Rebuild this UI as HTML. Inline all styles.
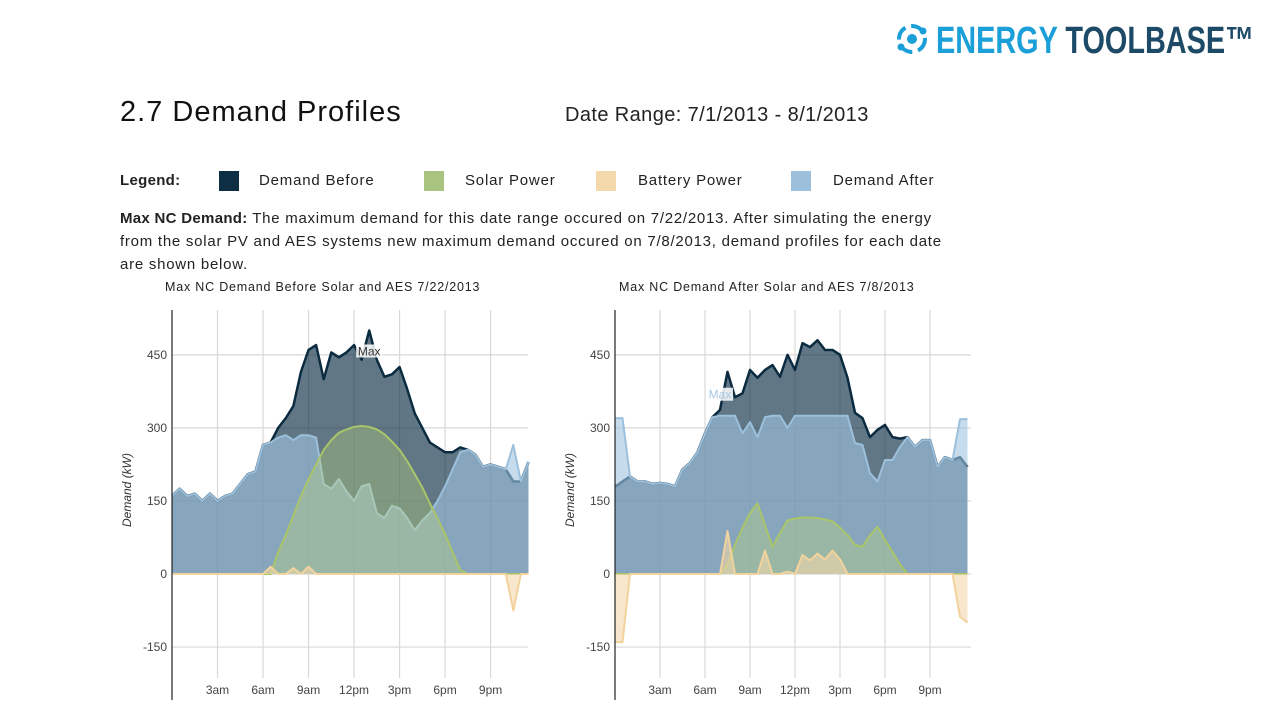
<!DOCTYPE html>
<html><head><meta charset="utf-8">
<style>
body{margin:0;width:1280px;height:720px;background:#fff;overflow:hidden;font-family:"Liberation Sans",sans-serif;color:#222;position:relative}
.abs{position:absolute;white-space:nowrap}
.sw{position:absolute;width:20px;height:20px;top:171px}
.lg{letter-spacing:0.8px}
</style></head><body>
<svg class="abs" style="left:890px;top:14px" width="385" height="50">
<circle cx="22" cy="25" r="13" fill="none" stroke="#1a9fd9" stroke-width="4" stroke-dasharray="14 6"/>
<circle cx="22" cy="25" r="5" fill="#1a9fd9"/>
<circle cx="11" cy="33" r="3.5" fill="#1a9fd9"/><circle cx="33" cy="17" r="3.5" fill="#1a9fd9"/>
<text x="46" y="39" font-family="Liberation Sans Narrow, Liberation Sans, sans-serif" font-weight="bold" font-size="38" textLength="318" lengthAdjust="spacingAndGlyphs"><tspan fill="#1a9fd9">ENERGY </tspan><tspan fill="#1d4a66">TOOLBASE™</tspan></text>
</svg>
<div class="abs" style="left:120px;top:96px;font-size:29px;color:#111;letter-spacing:1px">2.7 Demand Profiles</div>
<div class="abs" style="left:565px;top:104px;font-size:20px;color:#222;letter-spacing:0.4px">Date Range: 7/1/2013 - 8/1/2013</div>
<div class="abs lg" style="left:120px;top:172px;font-size:15px;font-weight:bold;letter-spacing:0.3px">Legend:</div>
<div class="sw" style="left:219px;background:#0e2e44"></div>
<div class="abs lg" style="left:259px;top:172px;font-size:15px">Demand Before</div>
<div class="sw" style="left:424px;background:#a8c47e"></div>
<div class="abs lg" style="left:465px;top:172px;font-size:15px">Solar Power</div>
<div class="sw" style="left:596px;background:#f2d8ab"></div>
<div class="abs lg" style="left:638px;top:172px;font-size:15px">Battery Power</div>
<div class="sw" style="left:791px;background:#9cc0dc"></div>
<div class="abs lg" style="left:833px;top:172px;font-size:15px">Demand After</div>
<div class="abs" style="left:120px;top:207px;font-size:15px;line-height:23px;letter-spacing:0.75px"><b style="letter-spacing:0.3px">Max NC Demand:</b> The maximum demand for this date range occured on 7/22/2013. After simulating the energy<br>from the solar PV and AES systems new maximum demand occured on 7/8/2013, demand profiles for each date<br>are shown below.</div>
<div class="abs" style="left:165px;top:280px;font-size:12.5px;letter-spacing:0.8px">Max NC Demand Before Solar and AES 7/22/2013</div>
<div class="abs" style="left:619px;top:280px;font-size:12.5px;letter-spacing:0.8px">Max NC Demand After Solar and AES 7/8/2013</div>
<svg id="c1" class="abs" style="left:0;top:0" width="640" height="720"></svg>
<svg id="c2" class="abs" style="left:0;top:0" width="1280" height="720"></svg>
<script>
const hours=[];for(let i=0;i<48;i++)hours.push(i*0.5);
const yTicks=[-150,0,150,300,450];
const xTickLabels=['3am','6am','9am','12pm','3pm','6pm','9pm'];
const xTickHours=[3,6,9,12,15,18,21];
const leftAfter=[160,175,160,165,150,165,150,160,165,185,205,210,265,270,280,285,275,285,285,280,185,175,195,170,150,180,185,125,115,140,135,115,90,110,125,150,180,215,250,255,245,220,225,220,215,265,190,230];
const leftBefore=[160,175,160,165,150,165,150,160,165,185,205,210,265,270,300,320,345,415,460,470,400,455,445,455,470,440,500,440,405,410,425,380,330,300,270,260,250,250,260,255,245,220,225,220,215,190,190,230];
const leftSolar=[0,0,0,0,0,0,0,0,0,0,0,0,0,0,45,80,120,160,195,225,255,275,290,297,302,304,302,297,287,272,255,232,205,178,145,115,82,45,8,0,0,0,0,0,0,0,0,0];
const leftBattery=[0,0,0,0,0,0,0,0,0,0,0,0,0,15,0,0,12,0,15,0,0,0,0,0,0,0,0,0,0,0,0,0,0,0,0,0,0,0,0,0,0,0,0,0,0,-75,0,0];
const rightAfter=[320,320,200,190,190,185,187,185,180,215,228,250,289,322,325,325,325,289,312,281,322,325,325,300,325,325,325,325,325,325,325,325,269,265,207,190,234,234,261,281,261,275,275,220,240,234,318,318];
const rightBefore=[179,190,200,190,190,185,187,185,180,215,228,250,289,322,337,415,363,371,419,403,419,429,405,450,419,474,466,480,460,460,450,403,331,320,281,296,306,281,278,281,261,275,275,220,240,234,240,220];
const rightSolar=[0,0,0,0,0,0,0,0,0,0,0,0,0,0,0,20,60,95,125,145,100,56,84,110,114,116,116,115,112,108,95,80,60,56,80,97,70,45,20,0,0,0,0,0,0,0,0,0];
const rightBattery=[-140,-140,0,0,0,0,0,0,0,0,0,0,0,0,0,88,0,0,0,0,48,0,0,5,0,39,28,42,30,48,30,0,0,0,0,0,0,0,0,0,0,0,0,0,0,0,-88,-100];
const NS='http://www.w3.org/2000/svg';
function mk(p,t,a){const e=document.createElementNS(NS,t);for(const k in a)e.setAttribute(k,a[k]);p.appendChild(e);return e;}
function chart(svg,x0,pxh,before,after,solar,battery,maxIdx,maxColor,pre,maxDy){
  const y=v=>574-v*0.487, x=h=>x0+h*pxh;
  yTicks.forEach(t=>{const g=mk(svg,'line',{x1:x0,x2:x0+356,y1:y(t),y2:y(t),stroke:'#d8d8d8','stroke-width':1.2});
    
    const l=mk(svg,'text',{x:x0-5,y:y(t)+4,'text-anchor':'end','font-size':12,fill:'#444','font-family':'Liberation Sans, sans-serif'});l.textContent=t;
    });
  xTickHours.forEach((h,i)=>{const g=mk(svg,'line',{x1:x(h),x2:x(h),y1:310,y2:678,stroke:'#d8d8d8','stroke-width':1.2});
    
    const l=mk(svg,'text',{x:x(h),y:694,'text-anchor':'middle','font-size':12,fill:'#444','font-family':'Liberation Sans, sans-serif'});l.textContent=xTickLabels[i];
    });
  const yl=mk(svg,'text',{transform:`translate(${x0-41},490) rotate(-90)`,'text-anchor':'middle','font-size':12,'font-style':'italic',fill:'#333','font-family':'Liberation Sans, sans-serif'});yl.textContent='Demand (kW)';
  
  function area(arr,fill,stroke,sw,name){
    let d='M'+x(hours[0])+','+y(0);arr.forEach((v,i)=>d+='L'+x(hours[i])+','+y(v));d+='L'+x(hours[arr.length-1])+','+y(0)+'Z';
    const a=mk(svg,'path',{d:d,fill:fill,stroke:'none'});
    let l='';arr.forEach((v,i)=>l+=(i?'L':'M')+x(hours[i])+','+y(v));
    const p=mk(svg,'path',{d:l,fill:'none',stroke:stroke,'stroke-width':sw,'stroke-linejoin':'round'});
  }
  area(before,'rgba(14,46,68,0.65)','#0b2b40',2.5,'demand-before');
  area(after,'rgba(160,196,225,0.6)','#9cc0dc',2,'demand-after');
  area(solar,'rgba(190,215,120,0.35)','#a9c56a',2,'solar-power');
  area(battery,'rgba(243,215,170,0.6)','#f2d39e',2,'battery-power');
  const ax=mk(svg,'line',{x1:x0,x2:x0,y1:310,y2:700,stroke:'#222','stroke-width':1.2});
  const mx=x(hours[maxIdx]),my=y((maxColor==='#333'?before:after)[maxIdx])+maxDy;
  const r=mk(svg,'rect',{x:mx-13,y:my+14,width:26,height:13,fill:'rgba(255,255,255,0.85)'});
  const t=mk(svg,'text',{x:mx,y:my+25,'text-anchor':'middle','font-size':12,fill:maxColor,'font-family':'Liberation Sans, sans-serif'});t.textContent='Max';
  
}
chart(document.getElementById('c1'),172,15.17,leftBefore,leftAfter,leftSolar,leftBattery,26,'#333','left-',0);
chart(document.getElementById('c2'),615,15.0,rightBefore,rightAfter,rightSolar,rightBattery,14,'#a8c6e0','right-',-42);
</script>
</body></html>
